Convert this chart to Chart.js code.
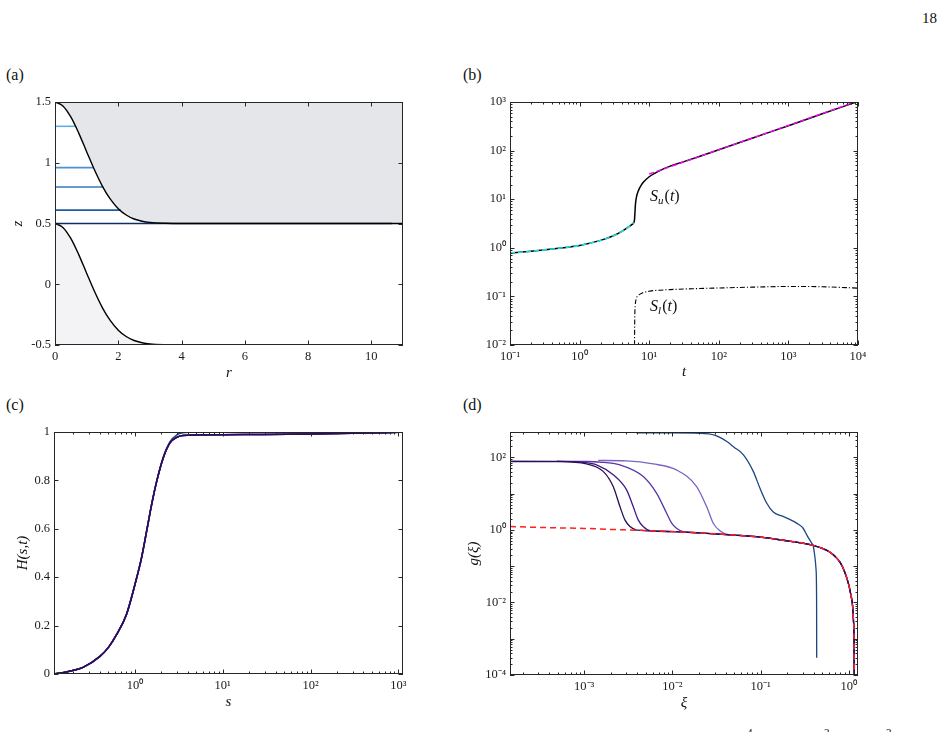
<!DOCTYPE html>
<html lang="en">
<head>
<meta charset="UTF-8">
<title>Figure 18</title>
<script src="https://cdn.jsdelivr.net/npm/chart.js"></script>
<style>
  body { margin: 0; background: #fff; }
  #page { position: relative; width: 951px; height: 732px; overflow: hidden; background: #fff;
          font-family: 'Liberation Serif', 'Times New Roman', serif; color: #111; }
  #page canvas { position: absolute; }
  .lab { position: absolute; font-size: 16px; line-height: 16px; }
  .cut { position: absolute; font-size: 11px; line-height: 11px; top: 727px; }
</style>
</head>
<body>
<div id="page">
  <div class="lab" style="left:922px;top:10px;font-size:15px">18</div>
  <div class="lab" style="left:6px;top:67px">(a)</div>
  <div class="lab" style="left:463px;top:67px">(b)</div>
  <div class="lab" style="left:6px;top:397px">(c)</div>
  <div class="lab" style="left:463px;top:397px">(d)</div>
  <div class="cut" style="left:747px">4</div>
  <div class="cut" style="left:824px">2</div>
  <div class="cut" style="left:886px">3</div>

  <canvas id="chartA" width="425" height="300" style="left:0;top:85px"></canvas>
  <canvas id="chartB" width="425" height="300" style="left:455px;top:85px"></canvas>
  <canvas id="chartC" width="425" height="300" style="left:0;top:415px"></canvas>
  <canvas id="chartD" width="425" height="300" style="left:455px;top:415px"></canvas>
</div>

<script>
// ---- (a) interface shapes z(r) ----
const rA = [0, 0.25, 0.5, 0.75, 1, 1.25, 1.5, 1.75, 2, 2.25, 2.5, 2.75, 3, 3.5, 4, 5, 7, 9, 11];
const zUpper = [1.5, 1.468, 1.377, 1.244, 1.091, 0.94, 0.806, 0.70, 0.622, 0.57, 0.537, 0.519, 0.509, 0.502, 0.5, 0.5, 0.5, 0.5, 0.5];
const zLower = [0.5, 0.468, 0.377, 0.244, 0.091, -0.06, -0.194, -0.30, -0.378, -0.43, -0.463, -0.481, -0.491, -0.498, -0.5, -0.5, -0.5, -0.5, -0.5];
const levelZ = [1.3, 0.96, 0.8, 0.61, 0.5];
const levelREnd = [0.63, 1.21, 1.53, 2.08, 10.65];
const rTicks = [0, 2, 4, 6, 8, 10];
const zTicks = [-0.5, 0, 0.5, 1, 1.5];

// ---- (b) S_u(t), S_l(t) ----
const tSu = [0.1, 0.2, 0.5, 1, 2, 3, 4, 5, 5.6, 6.0, 6.15, 6.25, 6.35, 6.6, 7.0, 7.7, 8.3, 10, 16, 20, 30, 50, 100, 300, 1000, 3000, 10000];
const su  = [0.78, 0.85, 0.98, 1.12, 1.42, 1.75, 2.15, 2.65, 3.0, 3.3, 3.8, 5.5, 8, 11.5, 15, 19.5, 22.5, 29, 42, 48, 58, 74, 104, 180, 325, 565, 1030];
const tEarly = [0.1, 0.2, 0.5, 1, 2, 3, 4, 5, 5.6, 6.0];
const suEarly = [0.78, 0.85, 0.98, 1.12, 1.42, 1.75, 2.15, 2.65, 3.0, 3.3];
const tLate = [10, 100, 1000, 10000];
const suLate = [33, 104, 330, 1050];
const tSl = [6.15, 6.2, 6.3, 6.5, 7, 8, 10, 20, 50, 100, 300, 1000, 3000, 10000];
const sl  = [0.01, 0.035, 0.065, 0.088, 0.105, 0.118, 0.128, 0.138, 0.145, 0.149, 0.155, 0.16, 0.158, 0.148];
const tTicks = [0.1, 1, 10, 100, 1000, 10000];
const sTicksB = [0.01, 0.1, 1, 10, 100, 1000];

// ---- (c) H(s,t) ----
const sH = [0.12, 0.15, 0.18, 0.257, 0.4, 0.5, 0.618, 0.8, 1.0, 1.19, 1.36, 1.55, 1.77, 2.1, 2.51, 3.0, 3.5, 5, 10, 30, 100, 300, 1000, 1130];
const hLate  = [0, 0.005, 0.011, 0.0275, 0.073, 0.11, 0.1625, 0.245, 0.369, 0.48, 0.59, 0.70, 0.796, 0.893, 0.955, 0.978, 0.986, 0.988, 0.989, 0.99, 0.992, 0.995, 0.999, 1.0];
const hEarly = [0, 0.005, 0.011, 0.0275, 0.073, 0.11, 0.1625, 0.245, 0.369, 0.48, 0.59, 0.70, 0.796, 0.895, 0.96, 0.988, 0.997, 1.0, 1.0, 1.0, 1.0, 1.0, 1.0, 1.0];
const sTicksC = [1, 10, 100, 1000];
const hTicks = [0, 0.2, 0.4, 0.6, 0.8, 1];

// ---- (d) g(xi) ----
const xiTail = [1.44e-4, 3e-4, 1e-3, 2e-3, 4e-3, 1e-2, 2e-2, 5e-2, 0.1, 0.2, 0.3, 0.4, 0.5, 0.6, 0.7, 0.8, 0.9, 1.0, 1.05, 1.1, 1.13, 1.145, 1.15];
const gTail  = [1.24, 1.17, 1.1, 1.03, 0.98, 0.9, 0.83, 0.72, 0.63, 0.5, 0.43, 0.37, 0.31, 0.25, 0.185, 0.125, 0.068, 0.03, 0.017, 0.0085, 0.003, 0.001, 0.0001];
const xi1 = [1.44e-4, 5e-4, 1.06e-3, 1.64e-3, 2.13e-3, 2.54e-3, 2.89e-3, 3.3e-3, 3.9e-3];
const g1  = [77, 76, 66, 41, 15.7, 4.4, 1.89, 1.24, 0.99];
const xi2 = [1.44e-4, 5e-4, 1e-3, 1.38e-3, 2.13e-3, 3.02e-3, 3.59e-3, 4.09e-3, 4.66e-3, 5.55e-3];
const g2  = [77, 77, 72, 62, 33, 12.7, 4.4, 1.89, 1.24, 0.96];
const xi3 = [4.9e-4, 1e-3, 1.5e-3, 2.54e-3, 4.67e-3, 6.6e-3, 8.6e-3, 9.8e-3, 1.11e-2, 1.32e-2];
const g3  = [78, 77, 74, 62, 29.6, 10.3, 2.88, 1.53, 1.11, 0.9];
const xi4 = [1.44e-3, 3e-3, 6.05e-3, 1.11e-2, 1.88e-2, 2.44e-2, 2.9e-2, 3.45e-2, 4.1e-2];
const g4  = [82, 80, 66, 45, 15.7, 4.4, 1.53, 0.95, 0.76];
const xi5 = [3.9e-3, 1e-2, 2.05e-2, 3e-2, 4.1e-2, 5e-2, 6.35e-2, 8.25e-2, 9.8e-2, 0.117, 0.139, 0.18, 0.214, 0.256, 0.303, 0.333, 0.379, 0.395, 0.41, 0.425, 0.431, 0.432];
const g5  = [470, 470, 460, 410, 277, 190, 119, 41, 14.3, 5.5, 3.1, 2.35, 1.95, 1.54, 1.11, 0.73, 0.43, 0.36, 0.2, 0.08, 0.01, 0.0003];
const xiTicks = [1e-3, 1e-2, 1e-1, 1];
const gTicks = [1e-4, 1e-2, 1, 100];

// ---------- helpers ----------
const SUP = { '-': '\u207B', '0': '\u2070', '1': '\u00B9', '2': '\u00B2', '3': '\u00B3', '4': '\u2074' };
const pow10Label = v => '10' + String(Math.round(Math.log10(v))).split('').map(c => SUP[c]).join('');
const plainLabel = v => String(v);
const pts = (xs, ys) => xs.map((x, i) => ({ x, y: ys[i] }));
// curve followed by the common outer solution beyond its last point
const withTail = (xs, ys) => pts(xs, ys).concat(pts(xiTail, gTail).filter(p => p.x > xs[xs.length - 1]));

const serif = "'Liberation Serif', 'Times New Roman', serif";
const tickFont = { family: serif, size: 12.5 };
const titleFont = { family: serif, size: 15, style: 'italic' };

function scaleCfg(type, min, max, values, fmt, horizontal, size, title, pad) {
  return {
    type, min, max,
    grid: { display: false, drawTicks: false },
    border: { display: false },
    ticks: { autoSkip: false, maxRotation: 0, padding: 4, color: '#1a1a1a', font: tickFont, callback: fmt },
    title: title ? { display: true, text: title, color: '#111', font: titleFont, padding: pad } : { display: false },
    afterBuildTicks: s => { s.ticks = values.map(v => ({ value: v })); },
    afterFit: s => { if (horizontal) s.height = size; else s.width = size; }
  };
}

function innerMarks(scale) {
  if (scale.type !== 'logarithmic') return scale.ticks.map(t => ({ v: t.value, major: true }));
  const out = [];
  for (let e = Math.floor(Math.log10(scale.min)); e <= Math.floor(Math.log10(scale.max)); e++) {
    for (let k = 1; k <= 9; k++) {
      const v = k * Math.pow(10, e);
      if (v >= scale.min * 0.999 && v <= scale.max * 1.001) out.push({ v, major: k === 1 });
    }
  }
  return out;
}

// box round the plot with inward ticks on all four sides
const frameTicks = {
  id: 'frameTicks',
  afterDatasetsDraw(chart) {
    const { ctx, chartArea: a, scales: { x, y } } = chart;
    ctx.save();
    ctx.strokeStyle = '#262626';
    ctx.lineWidth = 1;
    ctx.beginPath();
    innerMarks(x).forEach(t => {
      const p = Math.round(x.getPixelForValue(t.v)) + 0.5, len = t.major ? 4.5 : 2.5;
      ctx.moveTo(p, a.bottom); ctx.lineTo(p, a.bottom - len);
      ctx.moveTo(p, a.top); ctx.lineTo(p, a.top + len);
    });
    innerMarks(y).forEach(t => {
      const p = Math.round(y.getPixelForValue(t.v)) + 0.5, len = t.major ? 4.5 : 2.5;
      ctx.moveTo(a.left, p); ctx.lineTo(a.left + len, p);
      ctx.moveTo(a.right, p); ctx.lineTo(a.right - len, p);
    });
    ctx.stroke();
    ctx.strokeRect(a.left + 0.5, a.top + 0.5, a.width - 1, a.height - 1);
    ctx.restore();
  }
};

function drawMath(ctx, x, y, parts) {
  parts.forEach(([txt, italic, sub]) => {
    ctx.font = (italic ? 'italic ' : '') + (sub ? '11px ' : '16px ') + serif;
    ctx.fillText(txt, x, sub ? y + 4 : y);
    x += ctx.measureText(txt).width + (sub ? 1 : 0);
  });
}

const notesB = {
  id: 'notesB',
  afterDatasetsDraw(chart) {
    const { ctx, scales: { x, y } } = chart;
    ctx.save();
    ctx.fillStyle = '#111';
    ctx.textBaseline = 'middle';
    drawMath(ctx, x.getPixelForValue(10.3), y.getPixelForValue(11.3),
      [['S', true, false], ['u', true, true], ['(', false, false], ['t', true, false], [')', false, false]]);
    drawMath(ctx, x.getPixelForValue(10.3), y.getPixelForValue(0.061),
      [['S', true, false], ['l', true, true], ['(', false, false], ['t', true, false], [')', false, false]]);
    ctx.restore();
  }
};

function line(data, color, width, dash, extra) {
  return Object.assign({ data, borderColor: color, borderWidth: width, borderDash: dash || [],
    pointRadius: 0, fill: false, cubicInterpolationMode: 'monotone' }, extra || {});
}

function makeChart(id, datasets, xCfg, yCfg, plugins) {
  return new Chart(document.getElementById(id), {
    type: 'line',
    data: { datasets },
    options: {
      responsive: false,
      animation: false,
      layout: { padding: { top: 17, right: 22, left: 0, bottom: 0 } },
      plugins: { legend: { display: false }, tooltip: { enabled: false }, filler: { drawTime: 'beforeDatasetsDraw' } },
      scales: { x: xCfg, y: yCfg }
    },
    plugins: [frameTicks].concat(plugins || [])
  });
}

// (a)
const levelColors = ['#62aee2', '#4a93d2', '#3478bd', '#1f5ca2', '#0e2c66'];
makeChart('chartA',
  [
    line(pts(rA, zUpper), '#000', 1.4, null, { fill: 'end', backgroundColor: '#e5e6ea' }),
    line(pts(rA, zLower), '#000', 1.4, null, { fill: 'start', backgroundColor: '#f3f3f5' })
  ].concat(levelZ.map((z, i) => line(pts([0, levelREnd[i]], [z, z]), levelColors[i], 1.6))),
  scaleCfg('linear', 0, 11, rTicks, plainLabel, true, 40, 'r', { top: 0, bottom: 3 }),
  scaleCfg('linear', -0.5, 1.5, zTicks, plainLabel, false, 55, 'z', { top: 9, bottom: 0 }));

// (b)
makeChart('chartB',
  [
    line(pts(tLate, suLate), '#ff00ff', 1.4, [5, 3]),
    line(pts(tEarly, suEarly), '#19e0e0', 1.6, [5, 3]),
    line(pts(tSu, su), '#000', 1.5),
    line(pts(tSl, sl), '#000', 1.1, [5, 2, 1.2, 2])
  ],
  scaleCfg('logarithmic', 0.1, 10000, tTicks, pow10Label, true, 40, 't', { top: 0, bottom: 4 }),
  scaleCfg('logarithmic', 0.01, 1000, sTicksB, pow10Label, false, 55, null),
  [notesB]);

// (c)
makeChart('chartC',
  [
    line(pts(sH, hLate), '#2b0e52', 1.5),
    line(pts(sH, hLate), '#40178a', 1.5),
    line(pts(sH, hLate), '#5b34a6', 1.5),
    line(pts(sH, hLate), '#7c64c0', 1.5),
    line(pts(sH, hEarly), '#1e4582', 1.5)
  ],
  scaleCfg('logarithmic', 0.12, 1127, sTicksC, pow10Label, true, 41, 's', { top: 0, bottom: 4 }),
  scaleCfg('linear', 0, 1, hTicks, plainLabel, false, 54, 'H(s,t)', { top: 14, bottom: 0 }));

// (d)
makeChart('chartD',
  [
    line(pts(xiTail, gTail), '#ff2020', 1.5, [6, 4]),
    line(withTail(xi1, g1), '#2b0e52', 1.3),
    line(withTail(xi2, g2), '#40178a', 1.3),
    line(withTail(xi3, g3), '#5b34a6', 1.3),
    line(withTail(xi4, g4), '#7c64c0', 1.3),
    line(pts(xi5, g5), '#1e4582', 1.3)
  ],
  scaleCfg('logarithmic', 1.44e-4, 1.27, xiTicks, pow10Label, true, 40, '\u03BE', { top: 0, bottom: 3 }),
  scaleCfg('logarithmic', 1e-4, 500, gTicks, pow10Label, false, 55, 'g(\u03BE)', { top: 10, bottom: 0 }));
</script>
</body>
</html>
